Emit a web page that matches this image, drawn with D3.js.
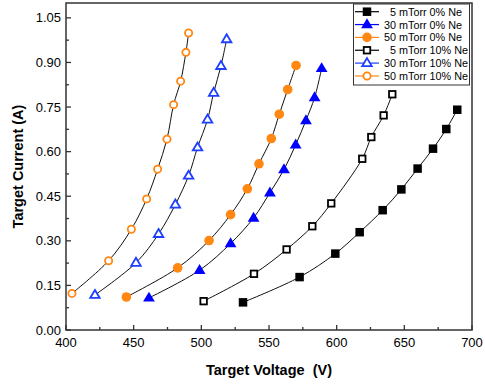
<!DOCTYPE html>
<html>
<head>
<meta charset="utf-8">
<script src="https://cdn.jsdelivr.net/npm/d3@7"></script>
<style>
  body { margin: 0; background: #fff; }
  text { font-family: Arial, "Liberation Sans", sans-serif; }
</style>
</head>
<body>
<div id="chart"></div>
<script>
// voltage (V) / current (A)
const v5_0 = [530.8, 572.6, 599, 617, 634, 647.8, 659.8, 671.2, 681, 689.1];
const i5_0 = [0.093, 0.178, 0.257, 0.329, 0.403, 0.473, 0.543, 0.610, 0.676, 0.741];
const v30_0 = [461.3, 498.7, 521.6, 538.6, 550.7, 561.1, 569.7, 577.3, 583.7, 588.9];
const i30_0 = [0.108, 0.201, 0.291, 0.377, 0.462, 0.540, 0.623, 0.705, 0.782, 0.880];
const v50_0 = [444.6, 482.5, 505.7, 521.6, 534, 542.6, 551.7, 557.6, 563.8, 570];
const i50_0 = [0.111, 0.209, 0.301, 0.388, 0.475, 0.559, 0.644, 0.726, 0.809, 0.890];
const v5_10 = [501.7, 538.9, 563, 582, 596, 618.9, 625.6, 634.7, 641.1];
const i5_10 = [0.097, 0.189, 0.271, 0.349, 0.426, 0.576, 0.649, 0.722, 0.793];
const v30_10 = [421.4, 451.7, 468.4, 480.8, 490.6, 497.2, 504.6, 509.1, 514.5, 518.7];
const i30_10 = [0.118, 0.226, 0.323, 0.422, 0.519, 0.614, 0.708, 0.798, 0.888, 0.978];
const v50_10 = [404.4, 431.5, 448.3, 459.6, 467.7, 474.6, 479.5, 484.7, 488.6, 490.6];
const i50_10 = [0.123, 0.233, 0.339, 0.441, 0.541, 0.642, 0.758, 0.837, 0.934, 0.999];

const seriesNames = [' 5 mTorr 0% Ne', '30 mTorr 0% Ne', '50 mTorr 0% Ne',
                     ' 5 mTorr 10% Ne', '30 mTorr 10% Ne', '50 mTorr 10% Ne'];
const xTicks = [400, 450, 500, 550, 600, 650, 700];
const yTicks = [0, 0.15, 0.30, 0.45, 0.60, 0.75, 0.90, 1.05];

const BLACK = '#000', BLUE = '#0000ff', ORANGE = '#ff8712';

const series = [
    { name: seriesNames[0], v: v5_0, i: i5_0, shape: 'square', color: BLACK, open: false },
    { name: seriesNames[1], v: v30_0, i: i30_0, shape: 'triangle', color: BLUE, open: false },
    { name: seriesNames[2], v: v50_0, i: i50_0, shape: 'circle', color: ORANGE, open: false },
    { name: seriesNames[3], v: v5_10, i: i5_10, shape: 'square', color: BLACK, open: true },
    { name: seriesNames[4], v: v30_10, i: i30_10, shape: 'triangle', color: '#1f3fff', open: true },
    { name: seriesNames[5], v: v50_10, i: i50_10, shape: 'circle', color: ORANGE, open: true }
];

const width = 485, height = 387;
const margin = { left: 66, right: 13, top: 3, bottom: 57 };

const svg = d3.select('#chart').append('svg')
    .attr('width', width)
    .attr('height', height);

const x = d3.scaleLinear().domain([400, 700]).range([margin.left, width - margin.right]);
const y = d3.scaleLinear().domain([0, 1.1]).range([height - margin.bottom, margin.top]);

// frame
svg.append('rect')
    .attr('x', x(400)).attr('y', y(1.1))
    .attr('width', x(700) - x(400)).attr('height', y(0) - y(1.1))
    .attr('fill', 'none').attr('stroke', '#333').attr('stroke-width', 1.5);

// x axis ticks (inward)
const xMinor = d3.range(425, 700, 50);
svg.append('g').selectAll('line.maj').data(xTicks).join('line')
    .attr('x1', d => x(d)).attr('x2', d => x(d))
    .attr('y1', y(0)).attr('y2', y(0) - 5)
    .attr('stroke', '#333').attr('stroke-width', 1.3);
svg.append('g').selectAll('line.min').data(xMinor).join('line')
    .attr('x1', d => x(d)).attr('x2', d => x(d))
    .attr('y1', y(0)).attr('y2', y(0) - 3)
    .attr('stroke', '#333').attr('stroke-width', 1.3);
svg.append('g').selectAll('text').data(xTicks).join('text')
    .attr('x', d => x(d)).attr('y', y(0) + 17)
    .attr('text-anchor', 'middle')
    .attr('font-size', 13)
    .text(d => d);

// y axis ticks
const yMinor = d3.range(0.075, 1.1, 0.15);
svg.append('g').selectAll('line.maj').data(yTicks).join('line')
    .attr('x1', x(400)).attr('x2', x(400) + 5)
    .attr('y1', d => y(d)).attr('y2', d => y(d))
    .attr('stroke', '#333').attr('stroke-width', 1.3);
svg.append('g').selectAll('line.min').data(yMinor).join('line')
    .attr('x1', x(400)).attr('x2', x(400) + 3)
    .attr('y1', d => y(d)).attr('y2', d => y(d))
    .attr('stroke', '#333').attr('stroke-width', 1.3);
svg.append('g').selectAll('text').data(yTicks).join('text')
    .attr('x', x(400) - 5).attr('y', d => y(d) + 4.5)
    .attr('text-anchor', 'end')
    .attr('font-size', 13)
    .text(d => d3.format('.2f')(d));

// axis titles
svg.append('text')
    .attr('x', (x(400) + x(700)) / 2).attr('y', 375)
    .attr('text-anchor', 'middle')
    .attr('font-size', 14.5).attr('font-weight', 'bold')
    .attr('xml:space', 'preserve')
    .text('Target Voltage  (V)');
svg.append('text')
    .attr('transform', `translate(23,${(y(0) + y(1.1)) / 2}) rotate(-90)`)
    .attr('text-anchor', 'middle')
    .attr('font-size', 14.5).attr('font-weight', 'bold')
    .text('Target Current (A)');

function drawMarker(g, s, cx, cy) {
    const fill = s.open ? '#fff' : s.color;
    const sw = s.open ? 1.8 : 0;
    if (s.shape === 'square') {
        const a = s.open ? 6.5 : 8.5;
        g.append('rect').attr('x', cx - a / 2).attr('y', cy - a / 2)
            .attr('width', a).attr('height', a)
            .attr('fill', fill).attr('stroke', s.color).attr('stroke-width', sw);
    } else if (s.shape === 'circle') {
        g.append('circle').attr('cx', cx).attr('cy', cy).attr('r', s.open ? 3.6 : 4.8)
            .attr('fill', fill).attr('stroke', s.color).attr('stroke-width', sw);
    } else {
        const r = s.open ? 5 : 6.2;
        const pts = [[cx, cy - r], [cx + r * 0.95, cy + r * 0.6], [cx - r * 0.95, cy + r * 0.6]];
        g.append('polygon').attr('points', pts.map(p => p.join(',')).join(' '))
            .attr('fill', fill).attr('stroke', s.color).attr('stroke-width', sw)
            .attr('stroke-linejoin', 'miter');
    }
}

const line = d3.line().curve(d3.curveCatmullRom.alpha(0.5));

series.forEach(s => {
    const pts = s.v.map((v, k) => [x(v), y(s.i[k])]);
    svg.append('path').attr('d', line(pts))
        .attr('fill', 'none').attr('stroke', '#111').attr('stroke-width', 1);
    const g = svg.append('g');
    pts.forEach(p => drawMarker(g, s, p[0], p[1]));
});

// legend
const lg = svg.append('g');
lg.append('rect').attr('x', 353.5).attr('y', 4).attr('width', 116).attr('height', 81)
    .attr('fill', '#fff').attr('stroke', '#333').attr('stroke-width', 1);
series.forEach((s, k) => {
    const ly = 11.7 + k * 12.85;
    lg.append('line').attr('x1', 355).attr('x2', 379).attr('y1', ly).attr('y2', ly)
        .attr('stroke', s.color).attr('stroke-width', 1.2);
    drawMarker(lg, s, 367, ly);
    lg.append('text').attr('x', 384).attr('y', ly + 4)
        .attr('font-size', 10.8)
        .attr('xml:space', 'preserve')
        .text(s.name.startsWith(' ') ? '\u2007' + s.name.slice(1) : s.name);
});
</script>
</body>
</html>
